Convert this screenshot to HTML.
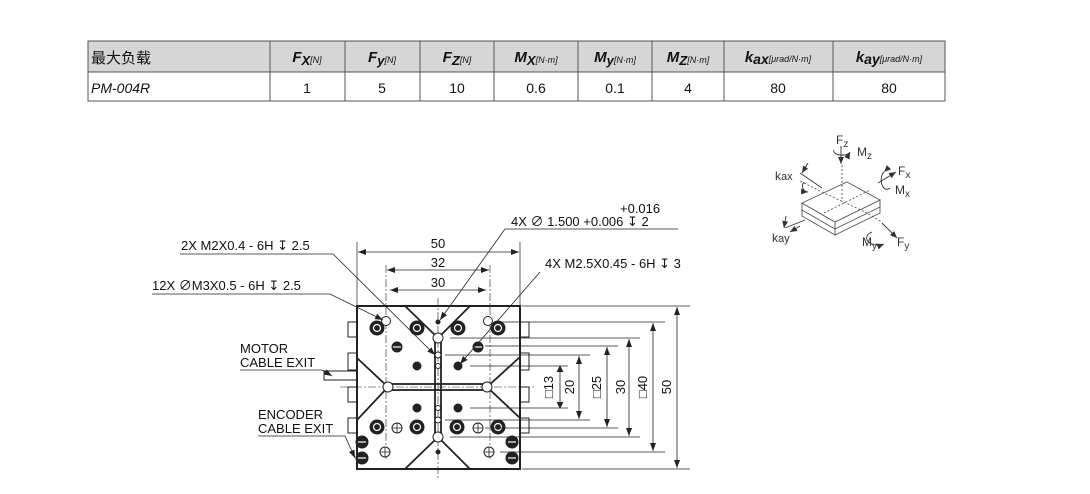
<!DOCTYPE html>
<html><head><meta charset="utf-8"><style>
body{margin:0;background:#fff;width:1090px;height:494px;overflow:hidden;font-family:"Liberation Sans","Noto Sans CJK SC",sans-serif}
svg{position:absolute;left:0;top:0}
</style></head><body>
<svg width="1090" height="494" viewBox="0 0 1090 494" xmlns="http://www.w3.org/2000/svg" font-family="Liberation Sans, Noto Sans CJK SC, sans-serif">
<defs>
<marker id="a" markerWidth="8" markerHeight="6" refX="8" refY="3" orient="auto" markerUnits="userSpaceOnUse"><path d="M0,0L8,3L0,6z" fill="#222"/></marker>
<marker id="b" markerWidth="8" markerHeight="6" refX="0" refY="3" orient="auto" markerUnits="userSpaceOnUse"><path d="M8,0L0,3L8,6z" fill="#222"/></marker>
<marker id="c" markerWidth="7" markerHeight="6" refX="7" refY="3" orient="auto" markerUnits="userSpaceOnUse"><path d="M0,0L7,3L0,6z" fill="#333"/></marker>
</defs>
<!-- table -->
<rect x="88" y="41" width="857" height="31" fill="#d6d6d6"/>
<g stroke="#555" stroke-width="1" fill="none">
<rect x="88" y="41" width="857" height="60"/>
<line x1="88" y1="72" x2="945" y2="72"/>
<line x1="270" y1="41" x2="270" y2="101"/><line x1="345" y1="41" x2="345" y2="101"/><line x1="420" y1="41" x2="420" y2="101"/><line x1="494" y1="41" x2="494" y2="101"/><line x1="578" y1="41" x2="578" y2="101"/><line x1="652" y1="41" x2="652" y2="101"/><line x1="724" y1="41" x2="724" y2="101"/><line x1="833" y1="41" x2="833" y2="101"/>
</g>
<g font-size="15" fill="#111">
<text x="91" y="63">最大负载</text>
<text x="91" y="93" font-style="italic" font-size="14">PM-004R</text>
<g font-style="italic" font-weight="bold" text-anchor="middle">
<text x="307" y="62">F<tspan font-size="13" dy="3">X</tspan><tspan font-size="9" font-weight="normal" dy="-2">[N]</tspan></text>
<text x="382" y="62">F<tspan font-size="13" dy="3">y</tspan><tspan font-size="9" font-weight="normal" dy="-2">[N]</tspan></text>
<text x="457" y="62">F<tspan font-size="13" dy="3">Z</tspan><tspan font-size="9" font-weight="normal" dy="-2">[N]</tspan></text>
<text x="536" y="62">M<tspan font-size="13" dy="3">X</tspan><tspan font-size="9" font-weight="normal" dy="-2">[N·m]</tspan></text>
<text x="615" y="62">M<tspan font-size="13" dy="3">y</tspan><tspan font-size="9" font-weight="normal" dy="-2">[N·m]</tspan></text>
<text x="688" y="62">M<tspan font-size="13" dy="3">Z</tspan><tspan font-size="9" font-weight="normal" dy="-2">[N·m]</tspan></text>
<text x="778" y="62">k<tspan font-size="14" dy="2">ax</tspan><tspan font-size="9" font-weight="normal" dy="-2">[μrad/N·m]</tspan></text>
<text x="889" y="62">k<tspan font-size="14" dy="2">ay</tspan><tspan font-size="9" font-weight="normal" dy="-2">[μrad/N·m]</tspan></text>
</g>
<g text-anchor="middle" font-size="14">
<text x="307" y="93">1</text><text x="382" y="93">5</text><text x="457" y="93">10</text><text x="536" y="93">0.6</text><text x="615" y="93">0.1</text><text x="688" y="93">4</text><text x="778" y="93">80</text><text x="889" y="93">80</text>
</g>
</g>
<!-- drawing -->
<g stroke="#222" fill="none" stroke-width="1">
<g fill="#fff">
<rect x="348" y="322" width="9" height="15"/><rect x="348" y="353" width="9" height="17"/><rect x="348" y="387" width="9" height="15"/><rect x="348" y="418" width="9" height="15"/>
<rect x="520" y="322" width="9" height="15"/><rect x="520" y="353" width="9" height="17"/><rect x="520" y="387" width="9" height="15"/><rect x="520" y="418" width="9" height="15"/>
<rect x="324" y="371" width="33" height="9"/>
</g>
<rect x="357" y="306" width="163" height="163" stroke-width="2"/>
<g stroke-width="1.8">
<polyline points="405,306 438,338 470,306"/>
<polyline points="405,469 438,437 470,469"/>
<polyline points="357,358 388,387 357,420"/>
<polyline points="520,357 487,387 520,418"/>
<rect x="435" y="338" width="6" height="99"/>
<rect x="388" y="384" width="99" height="6"/>
</g>
<g stroke-width="0.6" stroke-dasharray="8,2,2,2">
<line x1="438" y1="298" x2="438" y2="478"/>
<line x1="340" y1="387" x2="535" y2="387"/>
<line x1="386" y1="265" x2="386" y2="460"/><line x1="490" y1="265" x2="490" y2="460"/>
</g>
<g fill="#222" stroke="#222">
<circle cx="377" cy="328" r="7"/><circle cx="417" cy="328" r="7"/><circle cx="458" cy="328" r="7"/><circle cx="498" cy="328" r="7"/>
<circle cx="377" cy="427" r="7"/><circle cx="417" cy="427" r="7"/><circle cx="457" cy="427" r="7"/><circle cx="498" cy="427" r="7"/>
<circle cx="362" cy="442" r="6"/><circle cx="362" cy="458" r="6"/><circle cx="512" cy="442" r="6"/><circle cx="512" cy="458" r="6"/>
<circle cx="397" cy="347" r="5"/><circle cx="478" cy="347" r="5"/>
<circle cx="417" cy="366" r="4"/><circle cx="458" cy="366" r="4"/><circle cx="417" cy="408" r="4"/><circle cx="458" cy="408" r="4"/>
<circle cx="438" cy="322" r="2"/><circle cx="438" cy="452" r="2"/>
</g>
<g stroke="#fff" stroke-width="1.2">
<circle cx="377" cy="328" r="3.5"/><circle cx="417" cy="328" r="3.5"/><circle cx="458" cy="328" r="3.5"/><circle cx="498" cy="328" r="3.5"/>
<circle cx="377" cy="427" r="3.5"/><circle cx="417" cy="427" r="3.5"/><circle cx="457" cy="427" r="3.5"/><circle cx="498" cy="427" r="3.5"/>
<line x1="358" y1="442" x2="366" y2="442"/><line x1="358" y1="458" x2="366" y2="458"/><line x1="508" y1="442" x2="516" y2="442"/><line x1="508" y1="458" x2="516" y2="458"/>
<line x1="393" y1="347" x2="401" y2="347"/><line x1="474" y1="347" x2="482" y2="347"/>
</g>
<g fill="#fff">
<circle cx="386" cy="321" r="4.5"/><circle cx="488" cy="321" r="4.5"/>
<circle cx="397" cy="428" r="5"/><circle cx="478" cy="428" r="5"/><circle cx="385" cy="452" r="5"/><circle cx="489" cy="452" r="5"/>
<circle cx="388" cy="387" r="5"/><circle cx="487" cy="387" r="5"/>
<circle cx="438" cy="338" r="5"/><circle cx="438" cy="437" r="5"/>
<circle cx="438" cy="355" r="3"/><circle cx="438" cy="366" r="2.5"/><circle cx="438" cy="408" r="2.5"/><circle cx="438" cy="420" r="3"/>
</g>
<g stroke-width="0.8">
<path d="M392,428h10M397,423v10M473,428h10M478,423v10M380,452h10M385,447v10M484,452h10M489,447v10"/>
</g>
<g stroke-width="0.7">
<line x1="522" y1="306" x2="690" y2="306"/><line x1="522" y1="469" x2="690" y2="469"/>
<line x1="500" y1="322" x2="665" y2="322"/><line x1="500" y1="452" x2="665" y2="452"/>
<line x1="450" y1="338" x2="640" y2="338"/><line x1="450" y1="437" x2="640" y2="437"/>
<line x1="485" y1="346" x2="618" y2="346"/><line x1="485" y1="428" x2="618" y2="428"/>
<line x1="445" y1="355" x2="590" y2="355"/><line x1="445" y1="420" x2="590" y2="420"/>
<line x1="470" y1="366" x2="568" y2="366"/><line x1="470" y1="408" x2="568" y2="408"/>
<line x1="357" y1="242" x2="357" y2="306"/><line x1="520" y1="242" x2="520" y2="306"/>
</g>
<g stroke-width="0.8" marker-start="url(#b)" marker-end="url(#a)">
<line x1="677" y1="307" x2="677" y2="468"/>
<line x1="653" y1="323" x2="653" y2="451"/>
<line x1="629" y1="339" x2="629" y2="436"/>
<line x1="607" y1="347" x2="607" y2="427"/>
<line x1="579" y1="356" x2="579" y2="419"/>
<line x1="358" y1="252" x2="519" y2="252"/>
<line x1="387" y1="270" x2="489" y2="270"/>
<line x1="390" y1="290" x2="486" y2="290"/>
</g>
<g stroke-width="0.8">
<line x1="560" y1="366" x2="560" y2="408"/>
<polyline points="557,372 560,366 563,372" fill="#222"/><polyline points="557,402 560,408 563,402" fill="#222"/>
</g>
<g stroke-width="0.8">
<polyline points="505,229 440,320" marker-end="url(#a)"/>
<polyline points="180,254 333,254 435,355" marker-end="url(#a)"/>
<polyline points="540,272 460,364" marker-end="url(#a)"/>
<polyline points="152,294 330,294 383,320" marker-end="url(#a)"/>
<polyline points="240,370 322,370 332,376" marker-end="url(#a)"/>
<polyline points="258,436 345,436 355,458" marker-end="url(#a)"/>
<line x1="505" y1="229" x2="678" y2="229"/>
</g>
</g>
<g font-size="13" fill="#111">
<text x="620" y="213">+0.016</text>
<text x="511" y="226">4X ∅ 1.500 +0.006 ↧ 2</text>
<text x="181" y="250">2X M2X0.4 - 6H ↧ 2.5</text>
<text x="545" y="268">4X M2.5X0.45 - 6H ↧ 3</text>
<text x="152" y="290">12X ∅M3X0.5 - 6H ↧ 2.5</text>
<text x="240" y="353">MOTOR</text><text x="240" y="367">CABLE EXIT</text>
<text x="258" y="419">ENCODER</text><text x="258" y="433">CABLE EXIT</text>
<g text-anchor="middle">
<text x="438" y="248">50</text><text x="438" y="267">32</text><text x="438" y="287">30</text>
</g>
<g text-anchor="middle">
<text transform="translate(553,387) rotate(-90)">□13</text>
<text transform="translate(574,387) rotate(-90)">20</text>
<text transform="translate(601,387) rotate(-90)">□25</text>
<text transform="translate(625,387) rotate(-90)">30</text>
<text transform="translate(647,387) rotate(-90)">□40</text>
<text transform="translate(671,387) rotate(-90)">50</text>
</g>
</g>
<!-- axis icon -->
<g stroke="#555" fill="#fff" stroke-width="0.9">
<path d="M802,203 L802,216 L835,235 L835,222 Z"/>
<path d="M835,222 L880,200 L880,213 L835,235 Z"/>
<path d="M802,203 L847,182 L880,200 L835,222 Z"/>
<line x1="802" y1="210" x2="835" y2="229"/><line x1="835" y1="229" x2="880" y2="207"/>
<g stroke-dasharray="2,2" fill="none">
<line x1="842" y1="165" x2="842" y2="202"/><line x1="822" y1="192" x2="865" y2="212"/><line x1="824" y1="213" x2="870" y2="190"/>
<line x1="820" y1="191" x2="800" y2="181"/><line x1="865" y1="212" x2="882" y2="222"/>
</g>
<g fill="none" stroke="#333">
<line x1="841" y1="146" x2="841" y2="164" marker-end="url(#c)"/>
<path d="M834,150 a8,4 0 1 0 16,2" marker-end="url(#c)"/>
<line x1="878" y1="183" x2="896" y2="172" marker-end="url(#c)"/>
<path d="M884,172 a5,8 0 1 0 6,16" marker-start="url(#c)"/>
<line x1="882" y1="223" x2="897" y2="238" marker-end="url(#c)"/>
<path d="M872,232 a8,5 0 1 0 12,12" marker-end="url(#c)"/>
<line x1="800" y1="173" x2="822" y2="188"/><line x1="808" y1="163" x2="802" y2="173" marker-end="url(#c)"/>
<path d="M804,182 a6,6 0 0 0 4,10" marker-end="url(#c)"/>
<line x1="785" y1="228" x2="805" y2="220"/><line x1="786" y1="216" x2="784" y2="228" marker-end="url(#c)"/>
<path d="M800,226 l-10,6" marker-end="url(#c)"/>
</g>
</g>
<g font-size="12" fill="#333">
<text x="836" y="144">F<tspan font-size="10" dy="3">z</tspan></text>
<text x="857" y="156">M<tspan font-size="10" dy="3">z</tspan></text>
<text x="898" y="175">F<tspan font-size="10" dy="3">x</tspan></text>
<text x="895" y="194">M<tspan font-size="10" dy="3">x</tspan></text>
<text x="775" y="180">k<tspan font-size="11">ax</tspan></text>
<text x="772" y="242">k<tspan font-size="11">ay</tspan></text>
<text x="862" y="246">M<tspan font-size="10" dy="3">y</tspan></text>
<text x="897" y="246">F<tspan font-size="10" dy="3">y</tspan></text>
</g>
</svg>
</body></html>
